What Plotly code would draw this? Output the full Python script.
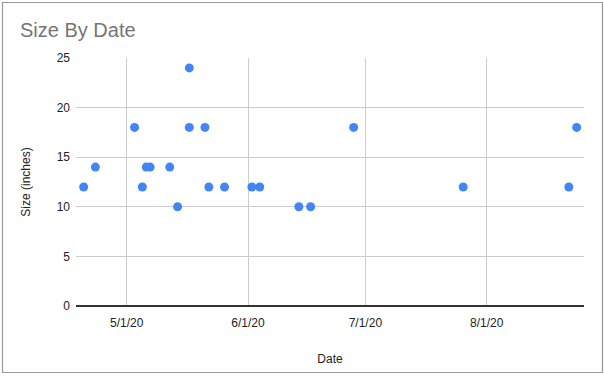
import plotly.graph_objects as go

dates = ["2020-04-20", "2020-04-23", "2020-05-03", "2020-05-05", "2020-05-06",
         "2020-05-07", "2020-05-12", "2020-05-14", "2020-05-17", "2020-05-17",
         "2020-05-21", "2020-05-22", "2020-05-26", "2020-06-02", "2020-06-04",
         "2020-06-14", "2020-06-17", "2020-06-28", "2020-07-26", "2020-08-22",
         "2020-08-24"]
sizes = [12, 14, 18, 12, 14, 14, 14, 10, 24, 18, 18, 12, 12, 12, 12, 10, 10, 18, 12, 12, 18]

y_ticks = [0, 5, 10, 15, 20, 25]

FONT = "Arial, 'Liberation Sans', sans-serif"

fig = go.Figure(go.Scatter(
    x=dates, y=sizes, mode="markers",
    marker=dict(color="#4285F4", size=9, line=dict(width=0)),
))

fig.update_layout(
    width=604, height=376,
    margin=dict(l=76, r=20, t=58, b=70),
    paper_bgcolor="white", plot_bgcolor="white",
    font=dict(family=FONT, size=12, color="#222222"),
    showlegend=False,
    title=dict(text="Size By Date", x=20 / 604, xanchor="left", y=1 - 30 / 376, yanchor="middle",
               font=dict(family=FONT, size=20, color="#757575")),
    xaxis=dict(
        type="date",
        range=["2020-04-18 01:00", "2020-08-25 21:00"],
        tick0="2020-05-01", dtick="M1", tickformat="%-m/%-d/%y",
        showgrid=True, gridcolor="#cccccc", gridwidth=1,
        showline=False, zeroline=False,
        ticks="", ticklabelstandoff=8,
        title=dict(text="Date", standoff=25, font=dict(size=12, color="#222222")),
    ),
    yaxis=dict(
        range=[0, 25], tickvals=y_ticks,
        showgrid=True, gridcolor="#cccccc", gridwidth=1,
        zeroline=True, zerolinecolor="#333333", zerolinewidth=1.5,
        showline=False, ticks="", ticklabelstandoff=5,
        title=dict(text="Size (inches)", standoff=23, font=dict(size=12, color="#222222")),
    ),
    shapes=[dict(type="rect", xref="paper", yref="paper",
                 x0=(2.5 - 76) / 508, x1=(602.5 - 76) / 508,
                 y0=(306 - 372.5) / 248, y1=(306 - 2.5) / 248,
                 line=dict(color="#999999", width=1.2), fillcolor="rgba(0,0,0,0)", layer="below")],
)

fig.write_html("out.html", config={"displayModeBar": False},
               post_script="document.body.style.margin='0';document.body.style.overflow='hidden';")
